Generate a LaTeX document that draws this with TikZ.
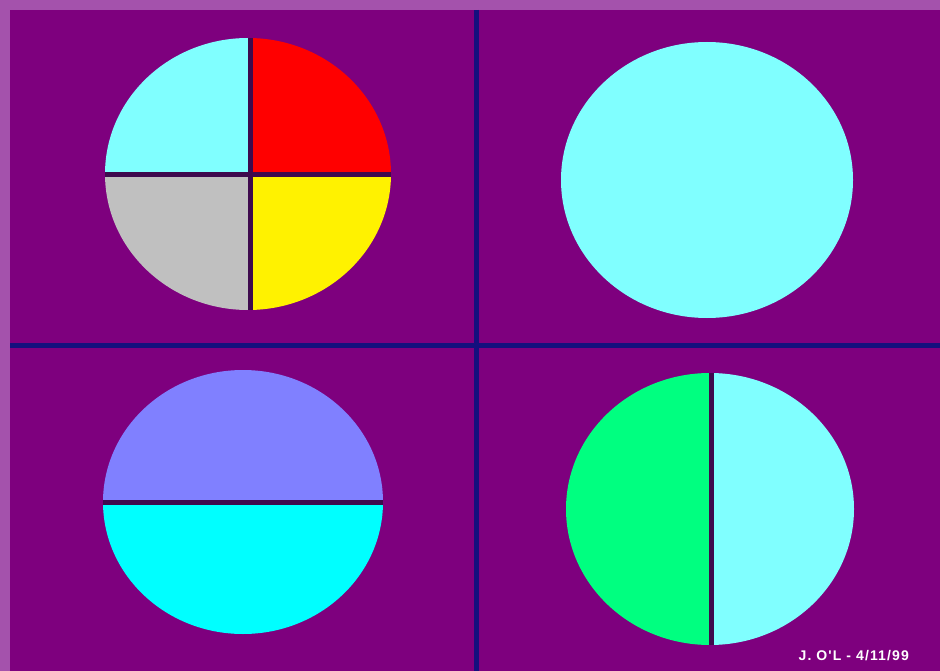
\documentclass[tikz,border=0pt]{standalone}
\usepackage{fontspec}
\setsansfont{Liberation Sans}
\newfontfamily\signfont[LetterSpace=8]{Liberation Sans}
\usepackage{tikz}
\definecolor{frame}{HTML}{A452AC}
\definecolor{board}{HTML}{7E007E}
\definecolor{rule}{HTML}{14107E}
\definecolor{seam}{HTML}{3E0A4E}
\definecolor{paleaqua}{HTML}{80FFFF}
\definecolor{aqua}{HTML}{00FFFF}
\definecolor{lilac}{HTML}{8080FF}
\definecolor{mint}{HTML}{00FF80}
\definecolor{silver}{HTML}{C0C0C0}

\begin{document}
\begin{tikzpicture}[x=1pt, y=-1pt,
  divider/.style={draw=rule, line width=5pt},
  seamline/.style={draw=seam, line width=5pt}]
  \useasboundingbox (0,0) rectangle (940,671);
  % background and frame
  \fill[frame] (0,0) rectangle (940,671);
  \fill[board] (10,10) rectangle (940,671);
  \draw[divider] (476,10) -- (476,671);
  \draw[divider] (10,345) -- (940,345);
  % top left: quarters
  \begin{scope}
    \clip (248,174) ellipse [x radius=143, y radius=136];
    \fill[paleaqua] (100,30) rectangle (250,175);
    \fill[red] (250,30) rectangle (400,175);
    \fill[silver] (100,175) rectangle (250,320);
    \fill[yellow] (250,175) rectangle (400,320);
    \draw[seamline] (250,30) -- (250,320);
    \draw[seamline] (100,175) -- (400,175);
  \end{scope}
  % top right: whole
  \fill[paleaqua] (707,180) ellipse [x radius=146, y radius=138];
  % bottom left: halves
  \begin{scope}
    \clip (243,502) ellipse [x radius=140, y radius=132];
    \fill[lilac] (100,365) rectangle (390,502);
    \fill[aqua] (100,502) rectangle (390,640);
    \draw[seamline] (100,502) -- (390,502);
  \end{scope}
  % bottom right: halves
  \begin{scope}
    \clip (710,509) ellipse [x radius=144, y radius=136];
    \fill[mint] (560,370) rectangle (711,650);
    \fill[paleaqua] (711,370) rectangle (860,650);
    \draw[seamline] (711,370) -- (711,650);
  \end{scope}
  \node[text=white, font=\signfont\bfseries\fontsize{14}{14}\selectfont, anchor=east, inner sep=0pt] (sign) at (909,656) {J. O'L - 4/11/99};
\end{tikzpicture}
\end{document}
